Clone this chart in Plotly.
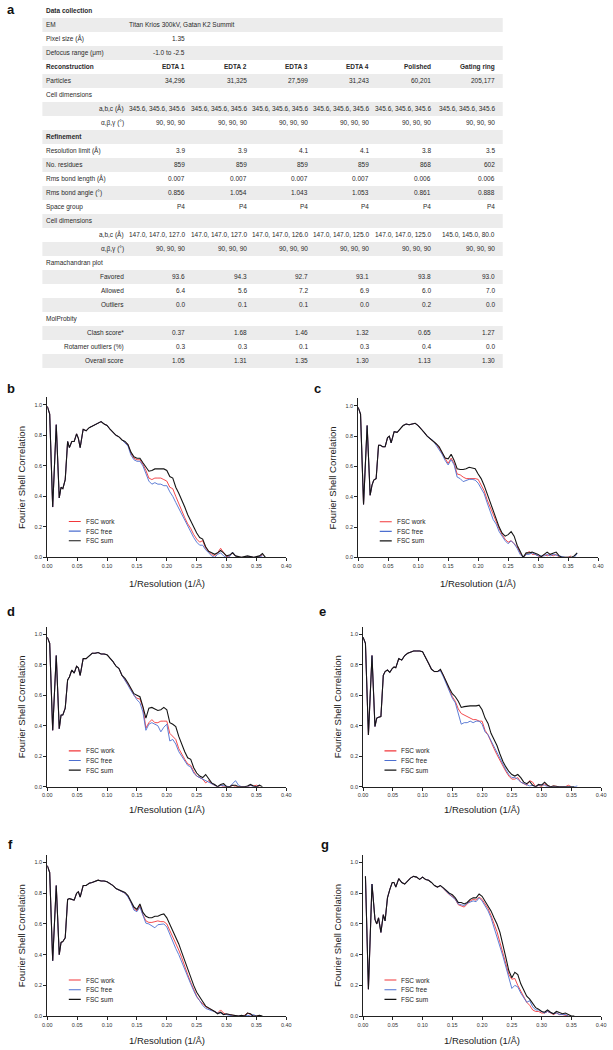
import plotly.graph_objects as go

W, H = 613, 1050
FONT = "Liberation Sans, Arial, sans-serif"
TXT = "#2a2a2a"

# ------------------------------------------------------------------ table data
col_headers = ["EDTA 1", "EDTA 2", "EDTA 3", "EDTA 4", "Polished", "Gating ring"]
em_text = "Titan Krios 300kV, Gatan K2 Summit"
pixel_size = "1.35"
defocus = "-1.0 to -2.5"
particles = ["34,296", "31,325", "27,599", "31,243", "60,201", "205,177"]
recon_abc = ["345.6, 345.6, 345.6"] * 6
recon_angles = ["90, 90, 90"] * 6
resolution = ["3.9", "3.9", "4.1", "4.1", "3.8", "3.5"]
residues = ["859", "859", "859", "859", "868", "602"]
bond_length = ["0.007", "0.007", "0.007", "0.007", "0.006", "0.006"]
bond_angle = ["0.856", "1.054", "1.043", "1.053", "0.861", "0.888"]
space_group = ["P4"] * 6
refine_abc = ["147.0, 147.0, 127.0", "147.0, 147.0, 127.0", "147.0, 147.0, 126.0",
              "147.0, 147.0, 125.0", "147.0, 147.0, 125.0", "145.0, 145.0, 80.0"]
refine_angles = ["90, 90, 90"] * 6
favored = ["93.6", "94.3", "92.7", "93.1", "93.8", "93.0"]
allowed = ["6.4", "5.6", "7.2", "6.9", "6.0", "7.0"]
outliers = ["0.0", "0.1", "0.1", "0.0", "0.2", "0.0"]
clash = ["0.37", "1.68", "1.46", "1.32", "0.65", "1.27"]
rotamer = ["0.3", "0.3", "0.1", "0.3", "0.4", "0.0"]
overall = ["1.05", "1.31", "1.35", "1.30", "1.13", "1.30"]

# (label, indented sub-label, values, bold)
table_rows = [
    ("Data collection", "", None, True),
    ("EM", "", "EM", False),
    ("Pixel size (Å)", "", "PIX", False),
    ("Defocus range (μm)", "", "DEF", False),
    ("Reconstruction", "", col_headers, True),
    ("Particles", "", particles, False),
    ("Cell dimensions", "", None, False),
    ("", "a,b,c (Å)", recon_abc, False),
    ("", "α,β,γ (°)", recon_angles, False),
    ("Refinement", "", None, True),
    ("Resolution limit (Å)", "", resolution, False),
    ("No. residues", "", residues, False),
    ("Rms bond length (Å)", "", bond_length, False),
    ("Rms bond angle (°)", "", bond_angle, False),
    ("Space group", "", space_group, False),
    ("Cell dimensions", "", None, False),
    ("", "a,b,c (Å)", refine_abc, False),
    ("", "α,β,γ (°)", refine_angles, False),
    ("Ramachandran plot", "", None, False),
    ("", "Favored", favored, False),
    ("", "Allowed", allowed, False),
    ("", "Outliers", outliers, False),
    ("MolProbity", "", None, False),
    ("", "Clash score*", clash, False),
    ("", "Rotamer outliers (%)", rotamer, False),
    ("", "Overall score", overall, False),
]

# ------------------------------------------------------------------ FSC data
X_LOW = [0.000, 0.004, 0.009, 0.015, 0.020, 0.023, 0.026, 0.030, 0.034, 0.037,
         0.041, 0.045, 0.049, 0.052, 0.055, 0.060, 0.065, 0.070, 0.075, 0.080,
         0.085, 0.090, 0.095, 0.100, 0.105, 0.110, 0.115, 0.120, 0.125]
X_HIGH = [0.130, 0.135, 0.140, 0.145, 0.150, 0.155, 0.160, 0.165, 0.170, 0.175,
          0.180, 0.185, 0.190, 0.195, 0.200, 0.205, 0.210, 0.215, 0.220, 0.225,
          0.230, 0.235, 0.240, 0.245, 0.250, 0.255, 0.260, 0.265, 0.270, 0.275,
          0.280, 0.285, 0.290, 0.295, 0.300, 0.305, 0.310, 0.315, 0.320, 0.325,
          0.330, 0.335, 0.340, 0.345, 0.350, 0.355, 0.360, 0.365]

# panel b
b_low = [0.99, 0.94, 0.33, 0.87, 0.39, 0.46, 0.45, 0.51, 0.76, 0.72, 0.76, 0.76, 0.81, 0.78, 0.72,
         0.84, 0.83, 0.85, 0.86, 0.87, 0.88, 0.89, 0.875, 0.865, 0.84, 0.82, 0.80, 0.79, 0.77]
b_sum = [0.76, 0.74, 0.69, 0.66, 0.65, 0.65, 0.62, 0.59, 0.565, 0.57, 0.58, 0.58, 0.58, 0.58, 0.57, 0.53,
         0.52, 0.46, 0.42, 0.38, 0.33, 0.28, 0.24, 0.19, 0.16, 0.13, 0.12, 0.07, 0.04, 0.03, 0.02, 0.03,
         0.045, 0.03, 0.01, 0.015, 0.03, 0.01, 0.005, 0.0, 0.005, 0.01, 0.005, 0.0, 0.005, 0.01, 0.025, 0.0]
b_work = [0.75, 0.74, 0.68, 0.65, 0.64, 0.64, 0.61, 0.57, 0.52, 0.51, 0.52, 0.52, 0.52, 0.51, 0.50, 0.46,
          0.45, 0.40, 0.35, 0.30, 0.26, 0.22, 0.19, 0.15, 0.12, 0.10, 0.11, 0.06, 0.04, 0.02, 0.01, 0.03,
          0.06, 0.03, 0.005, 0.01, 0.03, 0.01, 0.0, 0.0, 0.0, 0.005, 0.005, 0.0, 0.0, 0.005, 0.015, None]
b_free = [0.75, 0.73, 0.67, 0.64, 0.63, 0.63, 0.60, 0.55, 0.50, 0.48, 0.49, 0.48, 0.48, 0.47, 0.47, 0.43,
          0.40, 0.36, 0.32, 0.28, 0.24, 0.20, 0.17, 0.13, 0.10, 0.08, 0.08, 0.05, 0.03, 0.01, 0.0, 0.02,
          0.03, 0.01, 0.0, 0.005, 0.035, 0.01, 0.0, 0.0, 0.0, 0.005, 0.005, 0.0, 0.0, 0.005, 0.01, None]

# panel c
c_low = [0.99, 0.945, 0.35, 0.87, 0.41, 0.475, 0.51, 0.52, 0.74, 0.74, 0.73, 0.73, 0.79, 0.80, 0.755,
         0.83, 0.825, 0.85, 0.87, 0.88, 0.875, 0.88, 0.885, 0.87, 0.85, 0.825, 0.80, 0.785, 0.77]
c_sum = [0.75, 0.73, 0.695, 0.655, 0.65, 0.68, 0.64, 0.585, 0.58, 0.58, 0.585, 0.595, 0.59, 0.585, 0.55, 0.52,
         0.475, 0.42, 0.365, 0.31, 0.26, 0.20, 0.16, 0.14, 0.15, 0.17, 0.14, 0.08, 0.04, 0.0, 0.03, 0.03,
         0.035, 0.03, 0.02, 0.005, 0.02, 0.035, 0.02, 0.03, 0.035, 0.01, 0.0, 0.0, 0.0, 0.0, 0.01, 0.03]
c_work = [0.75, 0.72, 0.685, 0.645, 0.62, 0.655, 0.62, 0.55, 0.545, 0.53, 0.52, 0.52, 0.52, 0.52, 0.515, 0.48,
          0.44, 0.38, 0.33, 0.28, 0.23, 0.19, 0.15, 0.12, 0.10, 0.11, 0.09, 0.07, 0.03, 0.0, 0.02, 0.04,
          0.02, 0.02, 0.01, 0.0, 0.02, 0.01, 0.02, 0.01, 0.02, 0.0, 0.0, 0.0, 0.0, 0.01, None, None]
c_free = [0.74, 0.71, 0.68, 0.64, 0.61, 0.645, 0.61, 0.53, 0.52, 0.50, 0.51, 0.515, 0.515, 0.51, 0.49, 0.45,
          0.42, 0.36, 0.30, 0.25, 0.22, 0.17, 0.14, 0.11, 0.09, 0.11, 0.09, 0.06, 0.02, 0.0, 0.02, 0.02,
          0.03, 0.02, 0.01, 0.01, 0.01, 0.02, 0.01, 0.02, 0.015, 0.01, 0.0, 0.0, 0.0, 0.0, 0.0, 0.025]

# panel d
d_low = [0.98, 0.94, 0.37, 0.86, 0.38, 0.47, 0.47, 0.515, 0.70, 0.72, 0.765, 0.745, 0.79, 0.78, 0.73,
         0.84, 0.84, 0.86, 0.875, 0.875, 0.88, 0.87, 0.87, 0.865, 0.845, 0.82, 0.79, 0.775, 0.73]
d_sum = [0.71, 0.68, 0.645, 0.61, 0.60, 0.59, 0.525, 0.45, 0.515, 0.52, 0.51, 0.50, 0.505, 0.52, 0.505, 0.42,
         0.41, 0.395, 0.33, 0.275, 0.23, 0.19, 0.18, 0.125, 0.09, 0.07, 0.06, 0.08, 0.05, 0.025, 0.015, 0.0,
         0.015, 0.02, 0.0, 0.0, 0.01, 0.01, 0.0, 0.0, 0.0, 0.005, 0.015, 0.005, 0.0, 0.01, 0.0, None]
d_work = [0.70, 0.67, 0.64, 0.60, 0.58, 0.575, 0.52, 0.385, 0.42, 0.44, 0.42, 0.42, 0.43, 0.43, 0.43, 0.35,
          0.33, 0.31, 0.25, 0.21, 0.18, 0.15, 0.14, 0.10, 0.07, 0.06, 0.05, 0.025, 0.04, 0.02, 0.01, 0.0,
          0.01, 0.0, 0.0, 0.0, 0.01, 0.0, 0.0, 0.0, 0.0, 0.0, 0.01, 0.005, 0.01, 0.0, None, None]
d_free = [0.70, 0.665, 0.63, 0.595, 0.57, 0.55, 0.49, 0.37, 0.41, 0.42, 0.41, 0.40, 0.36, 0.39, 0.41, 0.30,
          0.31, 0.28, 0.23, 0.20, 0.17, 0.14, 0.13, 0.09, 0.07, 0.06, 0.05, 0.04, 0.03, 0.02, 0.01, 0.0,
          0.01, 0.005, 0.0, 0.0, 0.02, 0.04, 0.01, 0.0, 0.0, 0.0, 0.01, 0.0, 0.0, 0.01, None, None]

# panel e
e_low = [0.98, 0.94, 0.34, 0.86, 0.395, 0.45, 0.455, 0.46, 0.73, 0.755, 0.765, 0.75, 0.775, 0.785, 0.78,
         0.84, 0.83, 0.86, 0.875, 0.885, 0.89, 0.89, 0.89, 0.885, 0.85, 0.81, 0.77, 0.755, 0.755]
e_sum = [0.77, 0.73, 0.685, 0.645, 0.61, 0.59, 0.56, 0.52, 0.525, 0.53, 0.53, 0.53, 0.53, 0.535, 0.505, 0.45,
         0.415, 0.35, 0.31, 0.27, 0.215, 0.165, 0.13, 0.10, 0.08, 0.07, 0.08, 0.06, 0.03, 0.02, 0.035, 0.01,
         0.0, 0.015, 0.01, 0.03, 0.01, 0.0, 0.005, 0.0, 0.0, 0.0, 0.0, 0.0, 0.0, 0.0, None, None]
e_work = [0.765, 0.73, 0.68, 0.63, 0.59, 0.56, 0.51, 0.48, 0.47, 0.46, 0.45, 0.44, 0.44, 0.43, 0.43, 0.37,
          0.34, 0.29, 0.25, 0.21, 0.17, 0.13, 0.10, 0.07, 0.05, 0.05, 0.06, 0.03, 0.02, 0.01, 0.04, 0.03,
          0.0, 0.01, 0.0, 0.02, 0.005, 0.0, 0.005, 0.0, 0.0, 0.0, 0.0, 0.01, 0.0, None, None, None]
e_free = [0.76, 0.72, 0.675, 0.62, 0.58, 0.55, 0.48, 0.41, 0.42, 0.42, 0.43, 0.42, 0.43, 0.43, 0.41, 0.36,
          0.34, 0.30, 0.26, 0.22, 0.18, 0.14, 0.11, 0.08, 0.06, 0.06, 0.05, 0.03, 0.02, 0.01, 0.005, 0.01,
          0.0, 0.01, 0.015, 0.01, 0.0, 0.0, 0.0, 0.0, 0.0, 0.0, 0.0, 0.0, 0.0, 0.0, 0.005, None]

# panel f
f_low = [0.98, 0.935, 0.36, 0.85, 0.40, 0.48, 0.485, 0.51, 0.76, 0.765, 0.76, 0.755, 0.80, 0.81, 0.775,
         0.85, 0.85, 0.865, 0.87, 0.88, 0.885, 0.88, 0.88, 0.875, 0.865, 0.85, 0.83, 0.82, 0.815]
f_sum = [0.805, 0.785, 0.75, 0.71, 0.695, 0.73, 0.675, 0.65, 0.64, 0.64, 0.65, 0.65, 0.66, 0.665, 0.64, 0.60,
         0.555, 0.51, 0.47, 0.415, 0.36, 0.305, 0.25, 0.20, 0.155, 0.12, 0.095, 0.065, 0.055, 0.045, 0.03, 0.015,
         0.025, 0.01, 0.015, 0.01, 0.005, 0.005, 0.0, 0.005, 0.0, 0.02, 0.015, 0.0, 0.0, 0.005, 0.0, None]
f_work = [0.80, 0.78, 0.745, 0.70, 0.685, 0.72, 0.66, 0.62, 0.61, 0.61, 0.615, 0.62, 0.615, 0.615, 0.60, 0.56,
          0.52, 0.47, 0.43, 0.38, 0.32, 0.27, 0.22, 0.17, 0.13, 0.10, 0.08, 0.06, 0.05, 0.04, 0.03, 0.02,
          0.04, 0.02, 0.01, 0.01, 0.005, 0.0, 0.0, 0.0, 0.005, 0.02, 0.01, 0.0, 0.0, 0.005, None, None]
f_free = [0.80, 0.775, 0.74, 0.69, 0.68, 0.71, 0.65, 0.605, 0.60, 0.585, 0.575, 0.595, 0.60, 0.60, 0.58, 0.53,
          0.49, 0.44, 0.40, 0.35, 0.30, 0.26, 0.21, 0.165, 0.125, 0.10, 0.07, 0.05, 0.04, 0.035, 0.03, 0.02,
          0.02, 0.01, 0.01, 0.005, 0.0, 0.0, 0.0, 0.0, 0.0, 0.005, 0.0, 0.01, 0.0, None, None, None]

# panel g
g_low = [None, 0.91, 0.175, 0.86, 0.63, 0.60, 0.64, 0.545, 0.66, 0.62, 0.77, 0.825, 0.87, 0.87, 0.84,
         0.895, 0.87, 0.86, 0.88, 0.90, 0.91, 0.905, 0.89, 0.905, 0.89, 0.885, 0.87, 0.85, 0.84]
g_sum = [0.85, 0.835, 0.815, 0.80, 0.79, 0.77, 0.74, 0.74, 0.73, 0.74, 0.76, 0.77, 0.77, 0.795, 0.78, 0.75,
         0.72, 0.685, 0.64, 0.60, 0.545, 0.47, 0.38, 0.295, 0.25, 0.285, 0.27, 0.21, 0.165, 0.13, 0.11, 0.08,
         0.055, 0.045, 0.03, 0.025, 0.04, 0.025, 0.015, 0.03, 0.02, 0.015, 0.02, 0.01, 0.0, 0.0, None, None]
g_work = [0.85, 0.83, 0.81, 0.79, 0.78, 0.76, 0.725, 0.715, 0.71, 0.73, 0.75, 0.76, 0.755, 0.775, 0.76, 0.73,
          0.70, 0.655, 0.60, 0.55, 0.48, 0.41, 0.34, 0.27, 0.24, 0.245, 0.20, 0.16, 0.12, 0.09, 0.07, 0.04,
          0.03, 0.03, 0.02, 0.02, 0.03, 0.02, 0.01, 0.02, 0.01, 0.01, 0.005, 0.0, None, None, None, None]
g_free = [0.85, 0.83, 0.81, 0.795, 0.775, 0.76, 0.73, 0.725, 0.72, 0.735, 0.745, 0.75, 0.745, 0.77, 0.75, 0.72,
          0.685, 0.64, 0.58, 0.52, 0.46, 0.39, 0.32, 0.25, 0.18, 0.20, 0.19, 0.15, 0.12, 0.09, 0.10, 0.06,
          0.04, 0.04, 0.03, 0.02, 0.03, 0.02, 0.015, 0.02, 0.01, 0.01, 0.01, 0.0, None, None, None, None]

series_names = ["FSC work", "FSC free", "FSC sum"]
series_colors = ["#f2373a", "#4d6fd0", "#151515"]
x_ticks = [0.00, 0.05, 0.10, 0.15, 0.20, 0.25, 0.30, 0.35, 0.40]
y_ticks = [0.0, 0.2, 0.4, 0.6, 0.8, 1.0]

# panel geometry in pixels: (letter, data, x_left, x_right, y_zero, px_per_unit, letter_x, letter_y, xtitle_y)
panels = [
    ("b", (b_low, b_work, b_free, b_sum), 43, 286, 559, 153, 6, 390, 585),
    ("c", (c_low, c_work, c_free, c_sum), 359, 603, 559, 152, 318, 390, 585),
    ("d", (d_low, d_work, d_free, d_sum), 43, 286, 789, 153, 6, 613, 812),
    ("e", (e_low, e_work, e_free, e_sum), 364, 606, 789, 153, 323, 613, 812),
    ("f", (f_low, f_work, f_free, f_sum), 43, 286, 1019, 154, 6, 847, 1043),
    ("g", (g_low, g_work, g_free, g_sum), 364, 606, 1019, 154, 325, 847, 1043),
]
Y_TOP = 1.05

def px(x):
    return x / W

def py(y):
    return 1 - y / H

fig = go.Figure()
annotations = []
shapes = []

# ------------------------------------------------------------------ table
ROW0, ROWH = 11, 14.04
TL, TR = 38, 506
LAB_X, SUB_X = 40, 123
COL_X = [185, 248, 310, 372, 435, 500]
TFS = 6.5

def txt(x, y, s, anchor, bold=False, size=TFS):
    annotations.append(dict(
        x=px(x), y=py(y), xref="paper", yref="paper", text=f"<b>{s}</b>" if bold else s,
        showarrow=False, xanchor=anchor, yanchor="middle",
        font=dict(family=FONT, size=size, color=TXT)))

for i, (label, sub, vals, bold) in enumerate(table_rows):
    yc = ROW0 + ROWH * i
    if i % 2 == 1:
        shapes.append(dict(type="rect", xref="paper", yref="paper", layer="below",
                           x0=px(TL), x1=px(TR), y0=py(yc - ROWH / 2), y1=py(yc + ROWH / 2),
                           fillcolor="#ececec", line=dict(width=0)))
    if label:
        txt(LAB_X, yc, label, "left", bold)
    if sub:
        txt(SUB_X, yc, sub, "right")
    if vals == "EM":
        txt(124, yc, em_text, "left")
    elif vals == "PIX":
        txt(COL_X[0], yc, pixel_size, "right")
    elif vals == "DEF":
        txt(COL_X[0], yc, defocus, "right")
    elif isinstance(vals, list):
        for cx, v in zip(COL_X, vals):
            txt(cx, yc, v, "right", bold)

annotations.append(dict(x=px(6), y=py(0), xref="paper", yref="paper", text="<b>a</b>",
                        showarrow=False, xanchor="center", yanchor="top",
                        font=dict(family=FONT, size=13, color="#111")))

# ------------------------------------------------------------------ FSC panels
layout_axes = {}
for k, (letter, data, xl, xr, y0, ppu, lx, ly, xty) in enumerate(panels):
    n = k + 1
    xa = "x" if n == 1 else f"x{n}"
    ya = "y" if n == 1 else f"y{n}"
    low, work, free, summ = data
    assert len(low) == len(X_LOW)
    for s in (work, free, summ):
        assert len(s) == len(X_HIGH)
    for name, color, hi in zip(series_names, series_colors, (work, free, summ)):
        fig.add_trace(go.Scatter(
            x=X_LOW + X_HIGH, y=low + hi, mode="lines", name=name, showlegend=False,
            connectgaps=False, line=dict(color=color, width=1.1 if name == "FSC sum" else 0.9),
            xaxis=xa, yaxis=ya))
    ytop = y0 - Y_TOP * ppu
    ax_common = dict(showline=True, linecolor="#222", linewidth=1, ticks="outside",
                     ticklen=3, tickwidth=1, tickcolor="#222", showgrid=False, zeroline=False,
                     tickfont=dict(family=FONT, size=5.5, color="#333"), fixedrange=True)
    layout_axes["xaxis" if n == 1 else f"xaxis{n}"] = dict(
        domain=[px(xl), px(xr)], anchor=ya, range=[0, 0.40], tickmode="array",
        tickvals=x_ticks, ticktext=[f"{t:.2f}" for t in x_ticks], **ax_common)
    layout_axes["yaxis" if n == 1 else f"yaxis{n}"] = dict(
        domain=[py(y0), py(ytop)], anchor=xa, range=[0, Y_TOP], tickmode="array",
        tickvals=y_ticks, ticktext=[f"{t:.1f}" for t in y_ticks], **ax_common)
    # panel letter
    annotations.append(dict(x=px(lx), y=py(ly), xref="paper", yref="paper", text=f"<b>{letter}</b>",
                            showarrow=False, xanchor="center", yanchor="middle",
                            font=dict(family=FONT, size=13, color="#111")))
    # axis titles
    annotations.append(dict(x=px((xl + xr) / 2), y=py(xty), xref="paper", yref="paper",
                            text="1/Resolution (1/Å)", showarrow=False, xanchor="center",
                            yanchor="middle", font=dict(family=FONT, size=9.5, color="#222")))
    annotations.append(dict(x=px(xl - 26), y=py((y0 + ytop) / 2), xref="paper", yref="paper",
                            text="Fourier Shell Correlation", textangle=-90, showarrow=False,
                            xanchor="center", yanchor="middle",
                            font=dict(family=FONT, size=9.5, color="#222")))
    # legend (line samples + labels)
    for j, (name, color) in enumerate(zip(series_names, series_colors)):
        yl = 0.235 - 0.063 * j
        shapes.append(dict(type="line", xref=xa, yref=ya, x0=0.036, x1=0.056, y0=yl, y1=yl,
                           line=dict(color=color, width=1.1)))
        annotations.append(dict(x=0.061, y=yl, xref=xa, yref=ya, text=name, showarrow=False,
                                xanchor="left", yanchor="middle",
                                font=dict(family=FONT, size=6.5, color="#222")))

fig.update_layout(
    width=W, height=H, margin=dict(l=0, r=0, t=0, b=0),
    paper_bgcolor="white", plot_bgcolor="white", showlegend=False,
    annotations=annotations, shapes=shapes, **layout_axes)

fig.write_html("out.html", config={"displayModeBar": False, "staticPlot": True},
               post_script="document.body.style.margin='0px';"
                           "document.documentElement.style.overflow='hidden';")
